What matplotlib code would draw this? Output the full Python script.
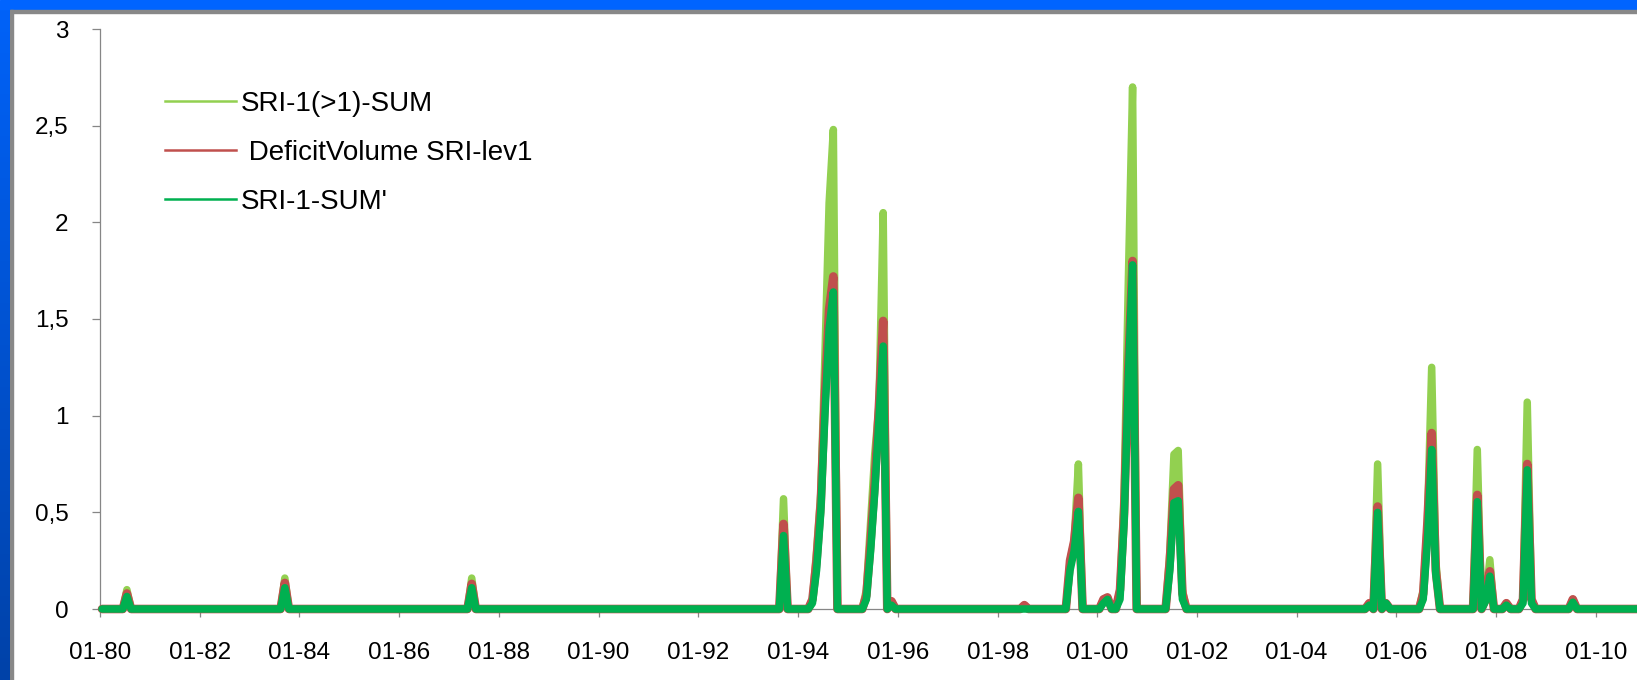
import numpy as np
import pandas as pd
import matplotlib
matplotlib.use('Agg')
import matplotlib.pyplot as plt
from matplotlib.lines import Line2D
from matplotlib.patches import Rectangle
from matplotlib.colors import LinearSegmentedColormap

# months with a non-zero value, everything else is 0
drought_months = ['1980-07', '1983-09', '1987-06', '1993-09',
                  '1994-04', '1994-05', '1994-06', '1994-07', '1994-08', '1994-09',
                  '1995-05', '1995-06', '1995-07', '1995-08', '1995-09', '1995-11',
                  '1998-07', '1999-06', '1999-07', '1999-08',
                  '2000-02', '2000-03', '2000-06', '2000-07', '2000-08', '2000-09',
                  '2001-06', '2001-07', '2001-08', '2001-09',
                  '2005-06', '2005-08', '2005-10',
                  '2006-07', '2006-08', '2006-09', '2006-10',
                  '2007-08', '2007-10', '2007-11', '2008-03',
                  '2008-07', '2008-08', '2008-09', '2009-07']
sri_gt1_sum = [0.10, 0.16, 0.16, 0.57,
               0.05, 0.30, 0.60, 1.30, 2.10, 2.48,
               0.10, 0.45, 0.80, 1.05, 2.05, 0.04,
               0.02, 0.25, 0.35, 0.75,
               0.05, 0.06, 0.10, 0.60, 1.70, 2.70,
               0.30, 0.80, 0.82, 0.10,
               0.03, 0.75, 0.03,
               0.10, 0.45, 1.25, 0.25,
               0.825, 0.05, 0.255, 0.03,
               0.05, 1.07, 0.05, 0.05]
deficit_volume = [0.08, 0.135, 0.13, 0.44,
                  0.05, 0.25, 0.55, 1.10, 1.55, 1.72,
                  0.07, 0.35, 0.65, 1.05, 1.49, 0.04,
                  0.02, 0.25, 0.35, 0.575,
                  0.05, 0.06, 0.10, 0.50, 1.25, 1.80,
                  0.25, 0.62, 0.64, 0.08,
                  0.03, 0.53, 0.03,
                  0.08, 0.45, 0.91, 0.20,
                  0.59, 0.05, 0.195, 0.03,
                  0.05, 0.75, 0.05, 0.05]
sri_sum = [0.065, 0.11, 0.11, 0.38,
           0.03, 0.20, 0.50, 1.00, 1.45, 1.64,
           0.05, 0.30, 0.60, 0.98, 1.36, 0.02,
           0.0, 0.20, 0.30, 0.505,
           0.03, 0.05, 0.05, 0.45, 1.20, 1.78,
           0.20, 0.55, 0.56, 0.05,
           0.02, 0.50, 0.03,
           0.05, 0.35, 0.825, 0.18,
           0.555, 0.04, 0.17, 0.02,
           0.03, 0.72, 0.03, 0.035]

series_labels = ['SRI-1(>1)-SUM', ' DeficitVolume SRI-lev1', "SRI-1-SUM'"]
series_colors = ['#92D050', '#C0504D', '#00B050']
x_tick_labels = ['01-80', '01-82', '01-84', '01-86', '01-88', '01-90', '01-92', '01-94',
                 '01-96', '01-98', '01-00', '01-02', '01-04', '01-06', '01-08', '01-10']
y_ticks = [0, 0.5, 1, 1.5, 2, 2.5, 3]
y_tick_labels = ['0', '0,5', '1', '1,5', '2', '2,5', '3']

all_months = pd.period_range('1980-01', '2010-12', freq='M')
x = all_months.to_timestamp() + pd.Timedelta(days=15)   # points sit mid-month

def full_series(vals):
  s = pd.Series(vals, index=pd.PeriodIndex(drought_months, freq='M'))
  return s.reindex(all_months, fill_value=0.0).values

plt.rcParams['font.family'] = ['Liberation Sans', 'DejaVu Sans']

W, H = 1637, 680
fig = plt.figure(figsize=(W/100, H/100), dpi=100, facecolor='white')

#slide frame: blue bands top and left with a grey inner edge
fig.add_artist(Rectangle((0, 1 - 10/H), 1, 10/H, transform=fig.transFigure, color='#0064FF', zorder=0))
fig.add_artist(Rectangle((10/W, 1 - 13/H), 1, 3/H, transform=fig.transFigure, color='#888888', zorder=0))
fig.add_artist(Rectangle((10/W, 0), 3/W, 1 - 10/H, transform=fig.transFigure, color='#888888', zorder=0))
gax = fig.add_axes([0, 0, 10/W, 1 - 10/H])
gax.imshow(np.linspace(0, 1, 256).reshape(-1, 1), aspect='auto',
           cmap=LinearSegmentedColormap.from_list('frame', ['#0062F8', '#0042A8']))
gax.axis('off')

ax = fig.add_axes([100/W, 71/H, 1537/W, 580/H])
widths = [5.4, 6.2, 5.4]
for vals, c, lw in zip([sri_gt1_sum, deficit_volume, sri_sum], series_colors, widths):
  ax.plot(x, full_series(vals), color=c, lw=lw, solid_joinstyle='round',
          solid_capstyle='round', clip_on=False, zorder=3)

ax.set_ylim(0, 3)
ax.set_xlim(pd.Timestamp('1980-01-01'), pd.Timestamp('2010-10-29'))
ax.set_yticks(y_ticks)
ax.set_yticklabels(y_tick_labels)
ax.set_xticks(pd.to_datetime(x_tick_labels, format='%m-%y'))
ax.set_xticklabels(x_tick_labels)
ax.tick_params(direction='out', length=5.8, width=0.9, color='#868686', labelsize=17.5)
ax.tick_params(axis='x', pad=18)
ax.tick_params(axis='y', pad=17)
for side in ['top', 'right']:
  ax.spines[side].set_visible(False)
for side in ['left', 'bottom']:
  ax.spines[side].set_color('#868686')
  ax.spines[side].set_linewidth(0.9)

handles = [Line2D([], [], color=c, lw=1.8) for c in series_colors]
ax.legend(handles, series_labels, loc='upper left', bbox_to_anchor=(165/W, 1 - 91/H),
          bbox_transform=fig.transFigure, frameon=False, fontsize=20, handlelength=2.55,
          handletextpad=0.18, labelspacing=0.82, borderpad=0, borderaxespad=0)

plt.savefig('out.png', dpi=100)
